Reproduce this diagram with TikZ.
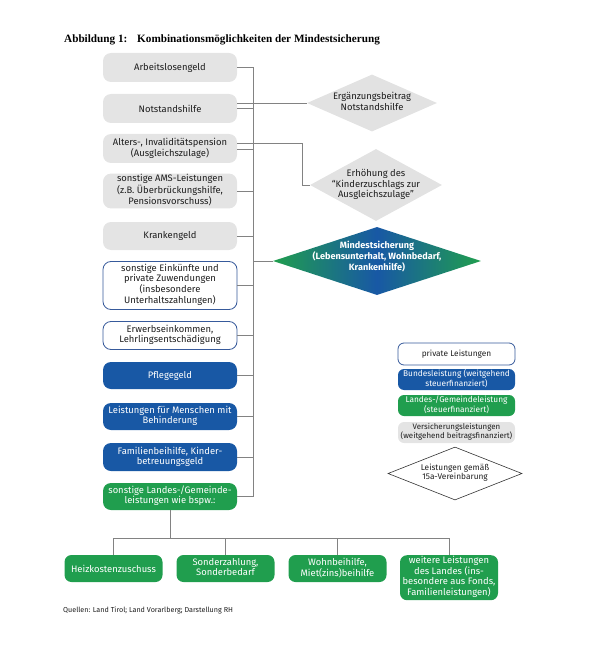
\documentclass[tikz,border=0pt]{standalone}
\usepackage{fontspec}
\setmainfont{Fira Sans}
\newfontfamily\titlefont{Liberation Serif}
\usetikzlibrary{shapes.geometric}
\definecolor{blueC}{RGB}{24,88,165}
\definecolor{greenC}{RGB}{32,158,78}
\definecolor{grayC}{RGB}{228,228,228}
\definecolor{dgrayC}{RGB}{226,226,226}
\definecolor{lineC}{RGB}{130,130,130}
\definecolor{borderC}{RGB}{55,90,155}
\definecolor{txtC}{RGB}{30,30,30}
\newcommand\bxfont{\fontsize{9.4}{10.2}\selectfont}
\newcommand\lgfont{\fontsize{8.3}{9}\selectfont}
\newcommand\ml[1]{\begin{tabular}{@{}c@{}}#1\end{tabular}}
\begin{document}
\begin{tikzpicture}[x=1pt,y=-1pt,
  basebox/.style={rounded corners=8pt, align=center, font=\bxfont, inner sep=1pt, minimum width=134pt},
  graybox/.style={basebox, fill=grayC, text=txtC},
  whitebox/.style={basebox, fill=white, draw=borderC, line width=0.8pt, text=txtC},
  bluebox/.style={basebox, fill=blueC, text=white},
  greenbox/.style={basebox, fill=greenC, text=white},
  smallbox/.style={rounded corners=7pt, align=center, font=\bxfont, inner sep=1pt, minimum width=98pt, fill=greenC, text=white},
  legbox/.style={rounded corners=6pt, align=center, font=\lgfont, inner sep=0.5pt, minimum width=117pt, minimum height=21pt},
  conn/.style={draw=lineC, line width=0.9pt},
  gdiam/.style={diamond, fill=dgrayC, inner sep=0pt},
  dtext/.style={align=center, font=\bxfont, text=txtC, inner sep=0pt}
]
\useasboundingbox (0,0) rectangle (605,647);

% title
\node[anchor=base west, inner sep=0pt, font=\titlefont\bfseries\fontsize{11.2}{12}\selectfont] (t1) at (64,43) {Abbildung 1:};
\node[anchor=base west, inner sep=0pt, font=\titlefont\bfseries\fontsize{11.2}{12}\selectfont] (t2) at (137,43) {Kombinationsmöglichkeiten der Mindestsicherung};

% left column
\node[graybox, minimum height=29pt] (n1) at (170,67.5) {Arbeitslosengeld};
\node[graybox, minimum height=29pt] (n2) at (170,108.5) {Notstandshilfe};
\node[graybox, minimum height=29pt] (n3) at (170,148.5) {\ml{Alters-, Invaliditätspension\\(Ausgleichszulage)}};
\node[graybox, minimum height=34pt] (n4) at (170,191) {\ml{sonstige AMS-Leistungen\\(z.B. Überbrückungshilfe,\\Pensionsvorschuss)}};
\node[graybox, minimum height=28pt] (n5) at (170,236) {Krankengeld};
\node[whitebox, minimum height=48pt] (n6) at (170,285.5) {\ml{sonstige Einkünfte und\\private Zuwendungen\\(insbesondere\\Unterhaltszahlungen)}};
\node[whitebox, minimum height=28pt] (n7) at (170,335.5) {\ml{Erwerbseinkommen,\\Lehrlingsentschädigung}};
\node[bluebox, minimum height=27pt] (n8) at (170,375.5) {Pflegegeld};
\node[bluebox, minimum height=27pt] (n9) at (170,416.5) {\ml{Leistungen für Menschen mit\\Behinderung}};
\node[bluebox, minimum height=28pt] (n10) at (170,457) {\ml{Familienbeihilfe, Kinder-\\betreuungsgeld}};
\node[greenbox, minimum height=27pt] (n11) at (170,496.5) {\ml{sonstige Landes-/Gemeinde-\\leistungen wie bspw.:}};

% diamonds
\node[gdiam, minimum width=130pt, minimum height=57pt] (d1) at (372,103) {};
\node[dtext] (d1t) at (d1) {\ml{Ergänzungsbeitrag\\Notstandshilfe}};
\node[gdiam, minimum width=132pt, minimum height=72pt] (d2) at (376,185) {};
\node[dtext] (d2t) at (d2) {\ml{Erhöhung des\\``Kinderzuschlags zur\\Ausgleichszulage''}};
\node[diamond, minimum width=208pt, minimum height=68pt, inner sep=0pt,
      left color=greenC, right color=greenC, middle color=blueC] (dm) at (377,261) {};
\node[align=center, inner sep=0pt, text=white, font=\bfseries\fontsize{9.1}{10}\selectfont] (dmt) at (377,257) {\ml{Mindestsicherung\\(Lebensunterhalt, Wohnbedarf,\\Krankenhilfe)}};

% spine
\coordinate (st) at (253,67.5);
\coordinate (sb) at (253,496.5);
\draw[conn] (st) -- (sb);
\foreach \n in {n1,n2,n4,n5,n6,n7,n8,n9,n10,n11}
  \draw[conn] (\n.east) -- (\n.east -| st);
\draw[conn] ([yshift=-0.5pt]n3.east) -- ([yshift=-0.5pt]n3.east -| st);
\draw[conn] ([yshift=5.5pt]n2.east) -- (d1.west);
\coordinate (kink) at (302,0);
\draw[conn] ([yshift=5.5pt]n3.east) -- ([yshift=5.5pt]n3.east -| kink) |- (d2.west);
\draw[conn] (dm.west -| st) -- (dm.west);

% legend
\node[legbox, fill=white, draw=borderC, line width=0.8pt, text=txtC, minimum height=22pt] (l1) at (456.5,354) {private Leistungen};
\node[legbox, fill=blueC, text=white] (l2) at (456.5,379.5) {\ml{Bundesleistung (weitgehend\\steuerfinanziert)}};
\node[legbox, fill=greenC, text=white] (l3) at (456.5,405.5) {\ml{Landes-/Gemeindeleistung\\(steuerfinanziert)}};
\node[legbox, fill=grayC, text=txtC, font=\fontsize{7.9}{8.8}\selectfont] (l4) at (456.5,432.5) {\ml{Versicherungsleistungen\\(weitgehend beitragsfinanziert)}};
\node[diamond, draw=black!80, line width=0.6pt, fill=white, minimum width=134pt, minimum height=53pt, inner sep=0pt] (l5) at (455,473.5) {};
\node[align=center, inner sep=0pt, font=\lgfont, text=txtC] (l5t) at (l5) {\ml{Leistungen gemäß\\15a-Vereinbarung}};

% bottom boxes
\node[smallbox, minimum height=27pt] (b1) at (113.5,568.5) {Heizkostenzuschuss};
\node[smallbox, minimum height=27pt] (b2) at (225.5,568.5) {\ml{Sonderzahlung,\\Sonderbedarf}};
\node[smallbox, minimum height=27pt] (b3) at (337.5,568.5) {\ml{Wohnbeihilfe,\\Miet(zins)beihilfe}};
\node[smallbox, minimum height=45pt, anchor=north] (b4) at (449,555) {\ml{weitere Leistungen\\des Landes (ins-\\besondere aus Fonds,\\Familienleistungen)}};

\coordinate (hb) at (0,538);
\draw[conn] (n11.south) -- (n11.south |- hb);
\draw[conn] (b1.north |- hb) -- (b4.north |- hb);
\foreach \n in {b1,b2,b3,b4}
  \draw[conn] (\n.north) -- (\n.north |- hb);

% source
\node[anchor=west, inner sep=0pt, font=\fontsize{7.2}{8}\selectfont, text=txtC] (src) at (63,610) {Quellen: Land Tirol; Land Vorarlberg; Darstellung RH};
\end{tikzpicture}
\end{document}
